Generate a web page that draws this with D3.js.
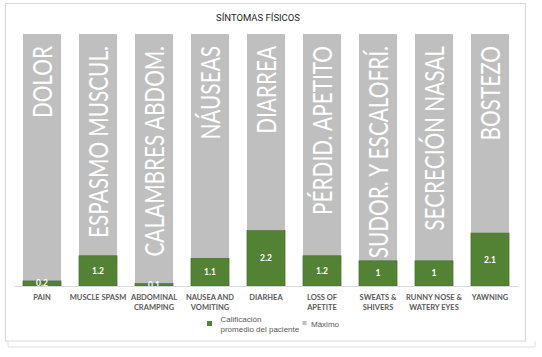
<!DOCTYPE html>
<html><head><meta charset="utf-8">
<script src="https://cdn.jsdelivr.net/npm/d3@7"></script>
<style>body{margin:0;background:#fff}svg{display:block}</style>
</head><body>
<script>
const categories = ["PAIN","MUSCLE SPASM","ABDOMINAL|CRAMPING","NAUSEA AND|VOMITING","DIARHEA","LOSS OF|APETITE","SWEATS &|SHIVERS","RUNNY NOSE &|WATERY EYES","YAWNING"];
const spanishLabels = ["DOLOR","ESPASMO MUSCUL.","CALAMBRES ABDOM.","NÁUSEAS","DIARREA","PÉRDID. APETITO","SUDOR. Y ESCALOFRÍ.","SECRECIÓN NASAL","BOSTEZO"];
const values = [0.2,1.2,0.1,1.1,2.2,1.2,1,1,2.1];
const maxValues = [10,10,10,10,10,10,10,10,10];
const title = "SÍNTOMAS FÍSICOS";
const legendLabels = ["Calificación|promedio del paciente","Máximo"];

const W=542,H=357;
const svg=d3.select("body").append("svg").attr("width",W).attr("height",H);
// frames
svg.append("polyline").attr("points","8,341 8,347 535,347 535,341").attr("fill","none").attr("stroke","#e2e2e2");
svg.append("rect").attr("x",5.5).attr("y",3.5).attr("width",520).attr("height",337.5).attr("fill","#fff").attr("stroke","#d9d9d9");

const x=d3.scaleBand().domain(d3.range(categories.length)).range([14,518]).paddingInner(0.32).paddingOuter(0.16);
const y=d3.scaleLinear().domain([0,10]).range([286,34]);

svg.append("text").attr("x",258).attr("y",20.5).attr("text-anchor","middle")
 .attr("font-family","Roboto").attr("font-size",9.5).attr("fill","#262626").text(title);

const g=svg.append("g");
g.selectAll(".max").data(values).join("rect").attr("x",(d,i)=>x(i)).attr("width",x.bandwidth())
 .attr("y",(d,i)=>y(maxValues[i])).attr("height",(d,i)=>y(d)-y(maxValues[i])).attr("fill","#bfbfbf");
g.selectAll(".val").data(values).join("rect").attr("x",(d,i)=>x(i)).attr("width",x.bandwidth())
 .attr("y",d=>y(d)).attr("height",d=>y(0)-y(d)).attr("fill","#548235").attr("stroke","#3f6a22").attr("stroke-width",0.6);

// rotated spanish labels
g.selectAll(".sl").data(spanishLabels).join("text")
 .attr("transform",(d,i)=>`translate(${x(i)+x.bandwidth()/2+9.5},${y(maxValues[i])+12}) rotate(-90) scale(0.8,1)`)
 .attr("text-anchor","end").attr("font-family","Lato").attr("font-size",26).attr("fill","#fff").text(d=>d);

// value labels
g.selectAll(".vl").data(values).join("text")
 .attr("x",(d,i)=>x(i)+x.bandwidth()/2).attr("y",d=>(y(d)+y(0))/2+3)
 .attr("text-anchor","middle").attr("font-family","Lato").attr("font-weight","bold").attr("font-size",8.5).attr("fill","#fff").text(d=>d);

// axis
const axis=svg.append("g").attr("transform","translate(0,286)").call(d3.axisBottom(x).tickSize(0).tickFormat(""));
axis.select(".domain").attr("stroke","#d9d9d9");
categories.forEach((c,i)=>{
  c.split("|").forEach((line,j)=>{
    svg.append("text").attr("x",x(i)+x.bandwidth()/2).attr("y",299.5+j*10).attr("text-anchor","middle")
     .attr("font-family","Lato").attr("font-weight","bold").attr("font-size",7.5).attr("fill","#595959").text(line);
  });
});

// legend
svg.append("rect").attr("x",207).attr("y",321).attr("width",5).attr("height",5).attr("fill","#548235");
legendLabels[0].split("|").forEach((l,j)=>svg.append("text").attr("x",220.5).attr("y",322+j*10).attr("font-family","Liberation Sans").attr("font-size",8).attr("fill","#595959").text(l));
svg.append("rect").attr("x",302.5).attr("y",321).attr("width",4).attr("height",4).attr("fill","#bfbfbf");
svg.append("text").attr("x",311).attr("y",327).attr("font-family","Liberation Sans").attr("font-size",8).attr("fill","#595959").text(legendLabels[1]);
</script>
</body></html>
